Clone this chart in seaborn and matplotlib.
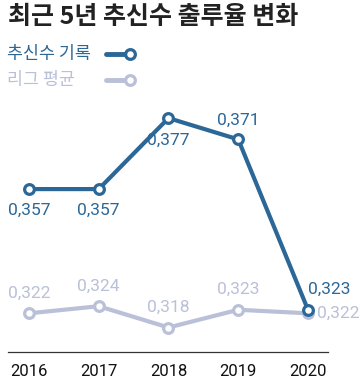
import pandas as pd
import numpy as np
import matplotlib.pyplot as plt
import seaborn as sns
from matplotlib.lines import Line2D

# 데이터
years = [2016, 2017, 2018, 2019, 2020]
choo = [0.357, 0.357, 0.377, 0.371, 0.323]
league = [0.322, 0.324, 0.318, 0.323, 0.322]

choo_label = "추신수 기록"
league_label = "리그 평균"
title = "최근 5년 추신수 출루율 변화"

blue = "#2b6797"
grey = "#b9c0d8"

sns.set_style("white")
plt.rcParams['font.family'] = ['Noto Sans CJK KR', 'DejaVu Sans']
num_font = ['Roboto', 'DejaVu Sans']

df = pd.DataFrame({"year": years * 2,
                   "obp": choo + league,
                   "who": [choo_label] * 5 + [league_label] * 5})

fig = plt.figure(figsize=(3.61, 3.88), dpi=100)
ax = fig.add_axes([8/361, 36/388, 320/361, 252/388])

sns.lineplot(data=df, x="year", y="obp", hue="who",
             palette={choo_label: blue, league_label: grey},
             hue_order=[league_label, choo_label],
             marker="o", markersize=7, markerfacecolor="white",
             markeredgewidth=2.3, linewidth=3, legend=False, ax=ax)
for ln, c in zip(ax.lines, [grey, blue]):
    ln.set_markeredgecolor(c)

ax.set_xlim(2015.699, 2020.287)
ax.set_ylim(0.3111, 0.3821)
ax.set_xticks(years)
ax.set_xticklabels([str(y) for y in years], fontfamily=num_font, fontsize=12,
                   color="#111111")
ax.tick_params(axis="x", length=0, pad=9)
ax.set_yticks([])
ax.set_xlabel("")
ax.set_ylabel("")
for s in ["top", "left", "right"]:
    ax.spines[s].set_visible(False)
ax.spines["bottom"].set_color("#333333")
ax.spines["bottom"].set_linewidth(0.9)

def fmt(v):
    return f"{v:.3f}".replace(".", ",")

lab = dict(fontfamily=num_font, fontsize=12.5)
# 추신수 라벨
offs_c = [(0, -21, "center"), (0, -21, "center"), (0, -22, "center"),
          (0, 19, "center"), (0, 20, "left")]
for x, v, (dx, dy, ha) in zip(years, choo, offs_c):
    ax.annotate(fmt(v), (x, v), xytext=(dx, dy), textcoords="offset pixels",
                ha=ha, va="center", color=blue, **lab)
# 리그 평균 라벨
offs_l = [(0, 20, "center")] * 4 + [(9, 0, "left")]
for x, v, (dx, dy, ha) in zip(years, league, offs_l):
    ax.annotate(fmt(v), (x, v), xytext=(dx, dy), textcoords="offset pixels",
                ha=ha, va="center", color=grey, **lab)

fig.text(8/361, 1 - 17/388, title, fontsize=18, fontweight="bold",
         color="#222222", va="center", ha="left")

# 범례
for yy, c, t in [(54, blue, choo_label), (80, grey, league_label)]:
    yf = 1 - yy/388
    fig.text(7/361, yf, t, fontsize=12.5, color=c, va="center", ha="left")
    fig.add_artist(Line2D([106/361, 130/361], [yf, yf], color=c, lw=3.5,
                          transform=fig.transFigure))
    fig.add_artist(Line2D([130/361], [yf], color=c, marker="o", markersize=7,
                          markerfacecolor="white", markeredgewidth=2.3,
                          transform=fig.transFigure))

fig.savefig("out.png", dpi=100)
